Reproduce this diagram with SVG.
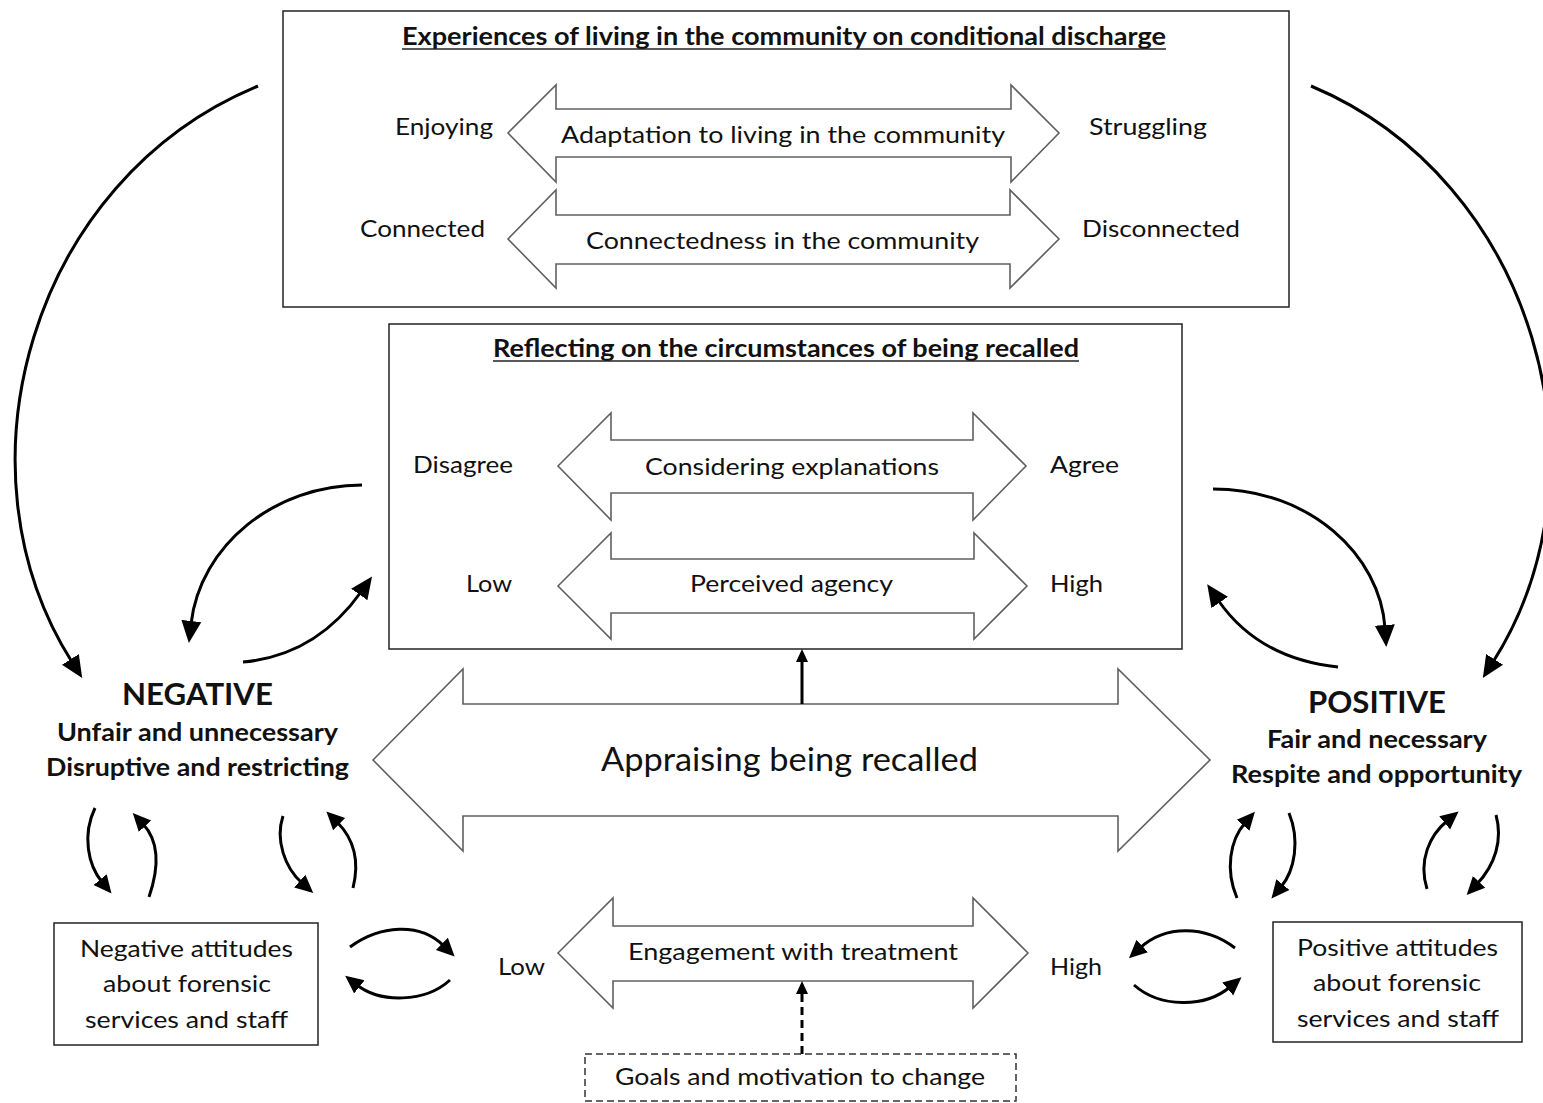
<svg xmlns="http://www.w3.org/2000/svg" width="1543" height="1103" viewBox="0 0 1543 1103">
<style>
text{font-family:Lato,"Open Sans","Liberation Sans",sans-serif;fill:#111;}
.t{font-size:24px;}
.b{font-size:24px;font-weight:bold;}
.big{font-size:32px;}
.h{font-size:30px;font-weight:bold;}
.box{fill:#fff;stroke:#222;stroke-width:1.5;}
.dbox{fill:#fff;stroke:#333;stroke-width:1.5;stroke-dasharray:7,4;}
.ba{fill:#fff;stroke:#606060;stroke-width:1.6;stroke-linejoin:miter;}
.c{fill:none;stroke:#000;stroke-width:3;marker-end:url(#ah);}
.cs{fill:none;stroke:#000;stroke-width:3;marker-end:url(#ahs);}
.ul{stroke:#222;stroke-width:1.6;}
</style>
<defs>
<marker id="ah" markerUnits="userSpaceOnUse" markerWidth="24" markerHeight="22" viewBox="0 0 24 22" refX="3" refY="11" orient="auto"><path d="M0,1 L22,11 L0,21 Z" fill="#000"/></marker>
<marker id="ahs" markerUnits="userSpaceOnUse" markerWidth="20" markerHeight="20" viewBox="0 0 20 20" refX="3" refY="10" orient="auto"><path d="M0,1.5 L18,10 L0,18.5 Z" fill="#000"/></marker>
</defs>
<rect width="1543" height="1103" fill="#fff"/>

<g id="experiences">
<rect class="box" x="283" y="11" width="1006" height="296"/>
<text class="b" x="402" y="45" textLength="764" lengthAdjust="spacingAndGlyphs">Experiences of living in the community on conditional discharge</text>
<line class="ul" x1="402" y1="49" x2="1166" y2="49"/>
<path class="ba" d="M508,133 L556,85 L556,109 L1011,109 L1011,85 L1059,133 L1011,182 L1011,157 L556,157 L556,182 Z"/>
<text class="t" x="561" y="143" textLength="444" lengthAdjust="spacingAndGlyphs">Adaptation to living in the community</text>
<text class="t" x="395" y="135" textLength="98" lengthAdjust="spacingAndGlyphs">Enjoying</text>
<text class="t" x="1089" y="135" textLength="118" lengthAdjust="spacingAndGlyphs">Struggling</text>
<path class="ba" d="M508,239 L556,190 L556,215 L1010,215 L1010,190 L1059,239 L1010,288 L1010,264 L556,264 L556,288 Z"/>
<text class="t" x="586" y="249" textLength="393" lengthAdjust="spacingAndGlyphs">Connectedness in the community</text>
<text class="t" x="360" y="237" textLength="125" lengthAdjust="spacingAndGlyphs">Connected</text>
<text class="t" x="1082" y="237" textLength="158" lengthAdjust="spacingAndGlyphs">Disconnected</text>
</g>

<g id="reflecting">
<rect class="box" x="389" y="324" width="793" height="325"/>
<text class="b" x="493" y="357" textLength="586" lengthAdjust="spacingAndGlyphs">Reflecting on the circumstances of being recalled</text>
<line class="ul" x1="493" y1="361" x2="1079" y2="361"/>
<path class="ba" d="M558,466 L611,413 L611,440 L973,440 L973,413 L1026,466 L973,520 L973,493 L611,493 L611,520 Z"/>
<text class="t" x="645" y="475" textLength="294" lengthAdjust="spacingAndGlyphs">Considering explanations</text>
<text class="t" x="413" y="473" textLength="100" lengthAdjust="spacingAndGlyphs">Disagree</text>
<text class="t" x="1050" y="473" textLength="69" lengthAdjust="spacingAndGlyphs">Agree</text>
<path class="ba" d="M558,586 L611,533 L611,559 L974,559 L974,533 L1027,586 L974,639 L974,613 L611,613 L611,639 Z"/>
<text class="t" x="690" y="592" textLength="203" lengthAdjust="spacingAndGlyphs">Perceived agency</text>
<text class="t" x="466" y="592" textLength="46" lengthAdjust="spacingAndGlyphs">Low</text>
<text class="t" x="1050" y="592" textLength="53" lengthAdjust="spacingAndGlyphs">High</text>
</g>

<g id="appraising">
<path class="ba" d="M373,760 L463,669 L463,704 L1118,704 L1118,669 L1210,760 L1118,851 L1118,816 L463,816 L463,851 Z"/>
<text class="big" x="601" y="771" textLength="377" lengthAdjust="spacingAndGlyphs">Appraising being recalled</text>
</g>

<g id="negative">
<text class="h" x="122" y="705" textLength="151" lengthAdjust="spacingAndGlyphs">NEGATIVE</text>
<text class="b" x="57" y="741" textLength="281" lengthAdjust="spacingAndGlyphs">Unfair and unnecessary</text>
<text class="b" x="46" y="776" textLength="303" lengthAdjust="spacingAndGlyphs">Disruptive and restricting</text>
</g>

<g id="positive">
<text class="h" x="1308" y="713" textLength="138" lengthAdjust="spacingAndGlyphs">POSITIVE</text>
<text class="b" x="1267" y="748" textLength="220" lengthAdjust="spacingAndGlyphs">Fair and necessary</text>
<text class="b" x="1231" y="783" textLength="291" lengthAdjust="spacingAndGlyphs">Respite and opportunity</text>
</g>

<g id="neg-attitudes">
<rect class="box" x="54" y="923" width="264" height="122"/>
<text class="t" x="80" y="957" textLength="213" lengthAdjust="spacingAndGlyphs">Negative attitudes</text>
<text class="t" x="103" y="992" textLength="168" lengthAdjust="spacingAndGlyphs">about forensic</text>
<text class="t" x="85" y="1028" textLength="203" lengthAdjust="spacingAndGlyphs">services and staff</text>
</g>

<g id="pos-attitudes">
<rect class="box" x="1273" y="922" width="249" height="120"/>
<text class="t" x="1297" y="956" textLength="201" lengthAdjust="spacingAndGlyphs">Positive attitudes</text>
<text class="t" x="1313" y="991" textLength="168" lengthAdjust="spacingAndGlyphs">about forensic</text>
<text class="t" x="1297" y="1027" textLength="202" lengthAdjust="spacingAndGlyphs">services and staff</text>
</g>

<g id="engagement">
<path class="ba" d="M558,953 L613,898 L613,926 L973,926 L973,898 L1028,953 L973,1008 L973,981 L613,981 L613,1008 Z"/>
<text class="t" x="628" y="960" textLength="330" lengthAdjust="spacingAndGlyphs">Engagement with treatment</text>
<text class="t" x="498" y="975" textLength="47" lengthAdjust="spacingAndGlyphs">Low</text>
<text class="t" x="1050" y="975" textLength="52" lengthAdjust="spacingAndGlyphs">High</text>
</g>

<g id="goals">
<rect class="dbox" x="585" y="1054" width="431" height="47"/>
<text class="t" x="615" y="1085" textLength="370" lengthAdjust="spacingAndGlyphs">Goals and motivation to change</text>
</g>

<g id="connectors">
<path class="c" d="M258,86 C30,180 -50,470 72,662"/>
<path class="c" d="M1311,86 C1535,180 1615,470 1493,662"/>
<path class="c" d="M362,485 C275,485 200,545 191,624"/>
<path class="c" d="M243,662 C300,657 336,627 361,592"/>
<path class="c" d="M1213,489 C1310,489 1380,555 1385,628"/>
<path class="c" d="M1338,667 C1290,662 1247,642 1218,600"/>
<path class="cs" d="M95,808 C82,835 88,865 102,882"/>
<path class="cs" d="M149,897 C160,865 158,840 143,824"/>
<path class="cs" d="M283,816 C275,840 285,868 302,883"/>
<path class="cs" d="M353,888 C360,860 353,838 337,822"/>
<path class="cs" d="M350,947 C380,925 420,922 444,946"/>
<path class="cs" d="M450,980 C425,1003 380,1003 357,985"/>
<path class="cs" d="M1237,898 C1225,870 1230,840 1245,823"/>
<path class="cs" d="M1289,813 C1300,840 1295,870 1281,887"/>
<path class="cs" d="M1427,889 C1418,860 1430,835 1447,821"/>
<path class="cs" d="M1496,815 C1503,840 1495,865 1477,884"/>
<path class="cs" d="M1235,948 C1205,925 1165,925 1140,948"/>
<path class="cs" d="M1134,985 C1160,1008 1205,1008 1230,987"/>
<line x1="802" y1="704" x2="802" y2="659" stroke="#000" stroke-width="3"/>
<path d="M802,649 L796,662 L808,662 Z" fill="#000"/>
<line x1="802" y1="1054" x2="802" y2="992" stroke="#000" stroke-width="3" stroke-dasharray="8,5"/>
<path d="M802,981 L796,994 L808,994 Z" fill="#000"/>
</g>
</svg>
